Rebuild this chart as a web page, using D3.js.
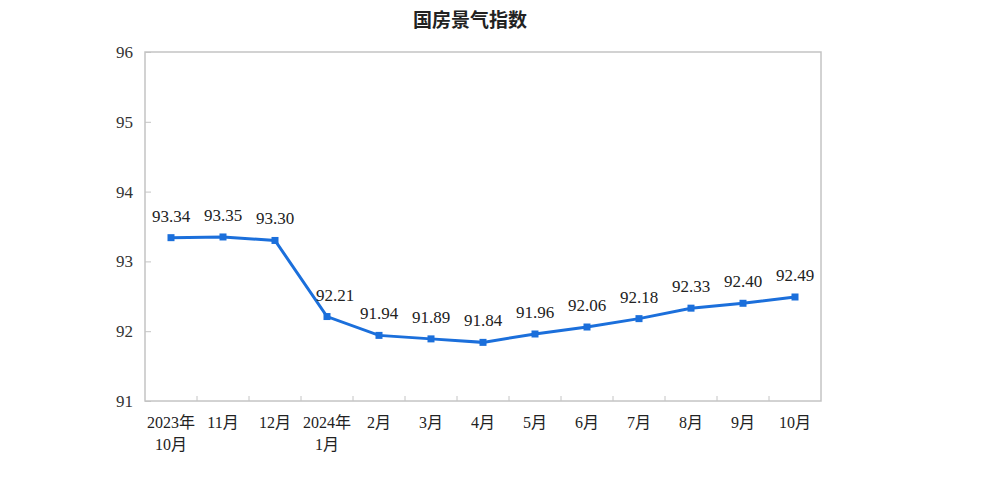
<!DOCTYPE html>
<html><head><meta charset="utf-8">
<script src="https://cdn.jsdelivr.net/npm/d3@7"></script>
<style>body{margin:0;background:#fff}</style>
</head><body>
<svg id="c" width="981" height="500"></svg>
<script>
const title = "国房景气指数";
const categories = [["2023年","10月"],["11月"],["12月"],["2024年","1月"],["2月"],["3月"],["4月"],["5月"],["6月"],["7月"],["8月"],["9月"],["10月"]];
const values = [93.34, 93.35, 93.30, 92.21, 91.94, 91.89, 91.84, 91.96, 92.06, 92.18, 92.33, 92.40, 92.49];
const yTicks = [91, 92, 93, 94, 95, 96];

(function () {
const svg = d3.select("#c");
const pL = 145, pR = 821, pT = 52, pB = 401;
const color = "#1b6fdb";
const x = d3.scaleBand().domain(d3.range(categories.length)).range([pL, pR]).padding(0);
const y = d3.scaleLinear().domain([91, 96]).range([pB, pT]);

svg.append("text").attr("x", 470).attr("y", 27).attr("text-anchor", "middle")
  .attr("font-family", "'Noto Sans CJK SC', sans-serif").attr("font-weight", "bold")
  .attr("font-size", 19).attr("fill", "#222").text(title);

svg.append("rect").attr("x", pL).attr("y", pT).attr("width", pR - pL).attr("height", pB - pT)
  .attr("fill", "none").attr("stroke", "#c4c4c4").attr("stroke-width", 1.5);

const yAxis = svg.append("g").attr("transform", `translate(${pL},0)`)
  .call(d3.axisLeft(y).tickValues(yTicks).tickSize(-6).tickPadding(12).tickFormat(d3.format("d")));
yAxis.select(".domain").remove();
yAxis.selectAll("line").attr("stroke", "#c4c4c4");
yAxis.selectAll("text").attr("font-family", "'Liberation Serif', serif").attr("font-size", 17).attr("fill", "#333");

const bounds = d3.range(1, categories.length).map(i => x(i));
svg.append("g").selectAll("line").data(bounds).join("line")
  .attr("x1", d => d).attr("x2", d => d).attr("y1", pB).attr("y2", pB - 5)
  .attr("stroke", "#c4c4c4").attr("stroke-width", 1);

const xl = svg.append("g").selectAll("text").data(categories).join("text")
  .attr("text-anchor", "middle")
  .attr("font-family", "'Liberation Serif', 'Noto Sans CJK SC', serif").attr("font-size", 16).attr("fill", "#222")
  .attr("transform", (d, i) => `translate(${x(i) + x.bandwidth() / 2},428)`);
xl.selectAll("tspan").data(d => d).join("tspan").attr("x", 0).attr("dy", (d, j) => j === 0 ? 0 : 22).text(d => d);

const cx = i => x(i) + x.bandwidth() / 2;
svg.append("path").datum(values)
  .attr("d", d3.line().x((d, i) => cx(i)).y(d => y(d)))
  .attr("fill", "none").attr("stroke", color).attr("stroke-width", 3);

svg.append("g").selectAll("rect").data(values).join("rect")
  .attr("x", (d, i) => cx(i) - 3.5).attr("y", d => y(d) - 3.5).attr("width", 7).attr("height", 7)
  .attr("fill", color);

// shift label right where the line drops steeply into the point
const dxFor = i => (i > 0 && values[i - 1] - values[i] > 0.5) ? 8 : 0;
svg.append("g").selectAll("text").data(values).join("text")
  .attr("x", (d, i) => cx(i) + dxFor(i)).attr("y", d => y(d) - 16)
  .attr("text-anchor", "middle").attr("font-family", "'Liberation Serif', serif")
  .attr("font-size", 17).attr("fill", "#222").text(d => d.toFixed(2));
})();
</script>
</body></html>
